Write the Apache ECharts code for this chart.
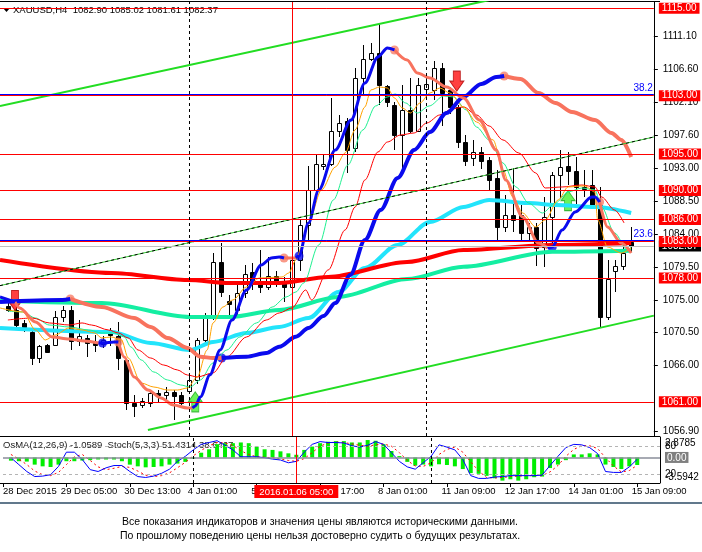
<!DOCTYPE html>
<html>
<head>
<meta charset="utf-8">
<script src="https://cdn.jsdelivr.net/npm/echarts@6/dist/echarts.min.js"></script>
<style>
  html, body { margin: 0; padding: 0; background: #fff; }
  #chart { width: 702px; height: 552px; }
</style>
</head>
<body>
<div id="chart"></div>
<script>
// XAUUSD H4, 28 Dec 2015 - 15 Jan 2016
var symbolName = 'XAUUSD,H4';

var opens  = [1074.2,1073.6,1071.8,1070.6,1067.0,1068.8,1068.8,1072.7,1073.6,1069.3,
              1069.8,1069.1,1068.9,1070.6,1070.0,1066.7,1060.8,1060.6,1060.8,1062.2,
              1062.0,1062.3,1062.0,1062.5,1064.0,1069.5,1072.5,1080.2,1074.9,1073.6,
              1075.9,1078.8,1077.3,1076.8,1078.3,1077.3,1076.8,1080.5,1085.3,1090.1,
              1093.4,1093.7,1098.1,1099.5,1095.8,1105.4,1108.0,1108.8,1104.4,1101.7,
              1097.6,1101.0,1098.1,1103.9,1103.8,1106.8,1103.8,1101.5,1096.7,1094.5,
              1095.3,1094.2,1091.7,1085.0,1086.7,1086.7,1084.2,1085.0,1082.3,1086.4,
              1092.1,1093.3,1092.7,1090.5,1090.7,1088.0,1072.7,1078.9,1079.6,1082.90];
var highs  = [1075.0,1075.0,1072.2,1070.9,1068.8,1069.0,1073.4,1074.1,1074.1,1072.2,
              1070.2,1070.2,1070.0,1071.1,1072.0,1067.0,1061.9,1061.5,1062.4,1062.6,
              1063.0,1062.6,1062.3,1064.5,1069.7,1073.2,1081.4,1082.8,1075.6,1077.3,
              1079.8,1080.0,1081.8,1080.9,1078.9,1078.1,1080.9,1085.9,1093.3,1094.9,
              1095.0,1102.7,1100.4,1099.9,1106.8,1110.0,1110.2,1112.9,1104.5,1102.2,
              1104.5,1105.4,1105.4,1105.4,1107.7,1107.5,1104.2,1101.7,1097.6,1096.9,
              1095.9,1094.6,1092.8,1089.4,1093.1,1088.0,1085.6,1085.5,1089.1,1092.6,
              1095.6,1095.3,1094.6,1092.8,1092.8,1090.5,1080.5,1080.5,1082.7,1085.02];
var lows   = [1073.3,1071.3,1070.6,1066.1,1066.3,1067.7,1068.6,1072.0,1068.1,1068.6,
              1067.2,1067.9,1068.4,1068.6,1065.4,1059.9,1058.9,1060.2,1060.3,1061.0,
              1061.3,1058.5,1060.6,1062.2,1063.5,1068.6,1072.2,1075.4,1072.7,1072.7,
              1075.2,1076.3,1075.9,1076.3,1076.8,1074.7,1076.3,1078.9,1083.2,1089.2,
              1092.8,1093.3,1097.4,1092.4,1095.3,1102.9,1107.7,1101.7,1101.5,1095.6,
              1092.8,1097.9,1098.1,1102.7,1102.4,1098.8,1100.5,1095.8,1093.3,1093.3,
              1093.0,1090.1,1083.2,1084.3,1084.3,1082.9,1082.9,1079.7,1079.5,1082.3,
              1088.9,1090.7,1088.2,1089.1,1087.8,1071.3,1072.2,1076.1,1079.1,1081.61];
var closes = [1073.6,1071.5,1071.3,1067.0,1068.6,1067.9,1072.7,1073.6,1069.3,1070.0,
              1069.1,1068.8,1069.5,1070.2,1067.0,1060.8,1060.4,1061.1,1062.2,1062.0,
              1062.3,1061.8,1060.9,1064.0,1069.5,1072.5,1080.2,1076.1,1074.4,1075.9,
              1078.6,1077.5,1076.7,1078.3,1077.5,1076.7,1080.5,1085.3,1090.1,1093.6,
              1093.6,1098.1,1099.3,1095.6,1105.5,1108.0,1108.8,1104.5,1102.2,1097.6,
              1101.0,1098.1,1104.5,1104.6,1106.8,1103.4,1101.5,1096.7,1094.0,1095.3,
              1094.1,1091.4,1085.0,1086.7,1086.0,1084.2,1085.0,1082.1,1086.4,1092.1,
              1093.2,1092.7,1090.5,1090.2,1088.0,1072.7,1077.9,1079.6,1081.4,1082.37];

// time axis labels (bar index -> label)
var timeLabelBars = [-1, 7, 15, 23, 31, 39, 47, 55, 63, 71, 79];
var timeLabels = ['28 Dec 2015', '29 Dec 05:00', '30 Dec 13:00', '4 Jan 01:00', '5 Jan 09:00',
                  '6 Jan 17:00', '8 Jan 01:00', '11 Jan 09:00', '12 Jan 17:00', '14 Jan 01:00', '15 Jan 09:00'];
var priceTicks = [1111.10, 1106.60, 1102.10, 1097.60, 1093.00, 1088.50, 1084.00, 1079.50, 1075.00, 1070.50, 1066.00, 1056.90];

// objects drawn on the chart
var levelLines = [1115.00, 1103.00, 1095.00, 1090.00, 1086.00, 1083.00, 1078.00, 1061.00];
var fiboLevels = [1103.14, 1083.14];
var fiboNames = ['38.2', '23.6'];
var weekStartBars = [23, 53];
var cursorBar = 36;
var cursorLabel = '2016.01.06 05:00';
var upperChannel = [[-1, 1101.57], [62, 1116.35]];
var lowerChannel = [[17.75, 1057.13], [81.875, 1072.83]];
var midTrend = [[-1, 1076.94], [81.875, 1097.34]];

// moving averages: [bar, price]
var maRedSlow = [[-1,1080.46],[13.1,1078.68],[22.75,1077.72],[28.1,1077.31],[34.4,1077.31],[40.6,1078.13],
                 [50.6,1080.19],[57.75,1081.83],[69,1082.52],[79,1082.79]];
var maTeal = [[-1,1074.88],[11.9,1074.56],[23.1,1072.64],[28.1,1072.64],[34.4,1073.60],[41.9,1075.39],
              [50.6,1077.85],[57.75,1079.54],[69,1081.60],[79,1081.74]];
var maCyan = [[-1,1071.13],[13.1,1070.58],[18.1,1069.07],[23.1,1068.11],[26,1069.21],[30.25,1070.44],
              [34.4,1071.27],[38.1,1072.50],[41.9,1076.07],[45.25,1079.36],[49.4,1082.52],[53.5,1085.68],
              [57.75,1087.73],[61,1088.70],[66,1088.28],[69.4,1088.01],[74.4,1087.73],[79,1086.91]];
var maOrange = [[-1,1073.88],[1.9,1073.33],[3.5,1070.86],[4.75,1069.49],[6,1070.17],[7.75,1071.13],[9.4,1070.86],
                [11,1070.45],[11.9,1069.76],[13.1,1069.90],[14.4,1069.49],[15.25,1067.01],[16.9,1063.58],[18.5,1063.03],
                [20.25,1062.62],[21.5,1062.62],[22.75,1062.90],[24,1064.41],[25.25,1068.11],[26,1071.82],[27.25,1074.01],
                [28.5,1074.97],[30.25,1076.76],[31.9,1077.99],[34.75,1078.13],[35.6,1078.68],[36.5,1080.46],[37.25,1082.25],
                [38.1,1085.54],[39.75,1090.07],[41.5,1093.22],[42.75,1095.15],[44,1098.30],[45.25,1101.46],[46,1103.79],
                [47.1,1104.20],[48.1,1104.06],[49,1102.69],[50,1101.32],[51,1100.63],[52.25,1102.01],[53.5,1103.38],
                [54.75,1104.06],[56,1103.38],[57.75,1101.46],[59.4,1099.40],[61.5,1096.93],[62.75,1092.81],[64,1089.11],
                [65.25,1086.91],[66.9,1084.99],[68.1,1085.95],[69.75,1088.70],[71,1090.48],[73.1,1090.62],[74.4,1089.79],
                [74.75,1085.95],[76,1082.25],[77.75,1081.42],[79,1082.11]];
var maRedFast = [[0,1072.23],[3.1,1072.50],[5.25,1071.82],[7.75,1071.54],[9.4,1071.82],[10.6,1071.54],[12.75,1070.86],
                 [14,1070.45],[15.25,1069.76],[16.5,1068.11],[18.1,1067.01],[19.75,1066.05],[21.5,1065.37],[22.75,1064.68],
                 [24,1064.41],[26,1064.96],[27.75,1067.15],[30.25,1069.90],[32.75,1072.23],[34.4,1073.19],[36,1073.88],
                 [37.75,1076.35],[38.5,1074.97],[40.6,1079.09],[42.75,1084.58],[44,1087.73],[45.25,1091.44],[46.9,1095.28],
                 [48.1,1096.65],[49.75,1097.61],[51.5,1097.89],[53.1,1099.26],[54.75,1100.36],[56.25,1101.18],[57.75,1101.46],
                 [59.4,1100.36],[61,1098.85],[62.75,1096.93],[64.75,1095.15],[66.9,1092.40],[68.1,1090.34],[70.25,1090.48],
                 [72.75,1090.75],[74.4,1090.48],[75.25,1089.11],[76.9,1087.32],[78.1,1085.54]];
var maGreenFast = [[0,1073.46],[1.9,1073.33],[3.5,1072.50],[5.25,1071.54],[7.75,1071.27],[10.25,1070.86],[11.9,1070.45],
                   [13.5,1070.45],[14.75,1069.90],[15.6,1068.52],[16.9,1066.74],[18.5,1065.09],[20.25,1064.00],[21.9,1063.31],
                   [23.1,1063.03],[24.4,1064.00],[26,1066.33],[27.75,1068.11],[29.4,1069.90],[31.5,1071.82],[33.5,1074.01],
                   [35.25,1075.38],[36.5,1076.07],[37.5,1077.31],[39.4,1082.52],[41.25,1088.70],[43.1,1093.50],[45,1098.30],
                   [46.6,1101.59],[48.1,1102.83],[49.1,1103.24],[50.4,1102.01],[51.9,1100.63],[53.4,1101.59],[55.25,1102.97],
                   [56.5,1102.83],[58.1,1101.05],[59.4,1098.71],[61,1096.93],[62.75,1093.77],[64.4,1090.48],[66,1088.28],
                   [67.75,1086.91],[69.4,1088.28],[71,1089.79],[72.75,1090.34],[74.4,1090.07],[75.25,1087.73],[76.9,1084.17],
                   [78.5,1081.83],[79,1082.25]];

// slope-coloured averages, '-' breaks a segment
var slowRising = [[-1,1074.70],[6.9,1074.97],[7.9,1075.11],'-',
                  [27.1,1067.01],[30.25,1067.19],[32.75,1067.70],[34.4,1068.57],[36.5,1069.94],[38.1,1071.13],[40,1072.78],
                  [41.5,1074.56],[43.4,1078.40],[45.25,1083.21],[47.25,1087.32],[49.4,1091.71],[51.5,1095.56],[53.5,1098.03],
                  [55.6,1100.63],[57.75,1102.83],[60,1104.61],[61.9,1105.57],[62.9,1105.71]];
var slowFalling = [[7.9,1075.11],[11.9,1074.01],[16,1072.50],[18.1,1071.27],[20.25,1069.76],[22.75,1068.39],[24.4,1067.19],
                   [26,1067.01],[27.1,1067.01],'-',
                   [62.9,1105.71],[65,1105.30],[67.25,1103.38],[69.4,1102.01],[71.5,1100.77],[74.4,1099.67],[76.5,1097.89],
                   [77.75,1096.93],[79,1094.60]];
var fastRising = [[-1,1075.38],[0.9,1074.70],'-',
                  [11.5,1069.07],[12,1069.07],[13.5,1069.21],[14,1069.21],'-',
                  [23.4,1060.15],[23.75,1060.43],[24.4,1061.66],[25.6,1064.68],[26.9,1068.11],[28.4,1072.23],[30.25,1076.35],
                  [32.1,1079.78],[33.4,1080.74],[34.4,1080.87],[35,1080.74],'-',
                  [36.5,1080.74],[36.9,1081.01],[38.1,1085.54],[39.4,1090.07],[41.5,1095.56],[43.5,1099.67],[45.25,1104.75],
                  [46.9,1108.32],[48.1,1109.55],[49,1109.28],'-',
                  [68.4,1082.11],[69,1082.25],[70.25,1084.58],[71.9,1087.05],[74,1089.11],[74.4,1089.11],[75,1088.42]];
var fastFalling = [[0.9,1074.70],[1.5,1073.88],[3.5,1071.96],[5.6,1069.90],[7.75,1069.62],[9.75,1069.35],[11.5,1069.07],'-',
                   [14,1069.21],[14.75,1067.15],[16,1064.41],[17.75,1062.62],[19.4,1061.53],[21,1060.56],[22.75,1060.15],
                   [23.4,1060.15],'-',
                   [35,1080.74],[36.5,1080.74],'-',
                   [49,1109.28],[50.6,1107.91],[51.9,1106.12],[53.5,1105.44],[55.6,1104.20],[57.75,1102.69],[59.75,1099.67],
                   [61.9,1095.56],[63.1,1091.44],[65.25,1086.36],[67.25,1082.79],[68.4,1082.11],'-',
                   [75,1088.42],[76,1084.99],[77.75,1082.79],[79,1081.42]];
var turnTops = [[7.9,1075.11],[62.9,1105.71],[14,1069.21],[35,1080.74],[49,1109.28],[75,1088.42]];
var turnBottoms = [[27.1,1067.01],[12,1069.07],[36.9,1081.01],[69,1082.25]];
var sellArrows = [[0.9,1074.9],[56.9,1105.0]];
var buyArrows = [[23.75,1061.0],[71,1088.6]];

// indicator window
var osma = [-0.45,-0.53,-0.58,-1.01,-1.25,-1.34,-1.01,-0.53,-0.53,-0.43,
            -0.38,-0.29,-0.29,-0.29,-0.53,-1.01,-1.25,-1.39,-1.34,-1.25,
            -1.01,-0.86,-0.62,-0.19,0.67,1.15,1.87,2.01,2.01,2.11,
            2.01,1.53,1.15,1.06,0.86,0.58,0.38,1.06,1.53,2.01,
            2.21,2.30,2.30,2.11,2.11,2.45,2.35,1.87,0.91,0.19,
            -0.62,-1.15,-1.00,-1.25,-0.96,-1.06,-1.25,-1.63,-2.20,-2.30,
            -2.59,-2.93,-3.26,-3.07,-3.26,-3.07,-2.78,-2.69,-1.49,-1.00,
            -0.38,0.43,0.43,0.58,0.43,-1.00,-1.34,-1.63,-1.25,-1.0589];
var stochMain = [55,40,25,14,15,18,36,67,67,51,29,25,33,38,38,25,14,12,15,21,
                 30,47,58,72,84,88,92,82,72,57,57,57,55,52,50,44,47,67,84,90,
                 88,88,87,81,78,82,90,84,66,47,35,30,44,58,83,78,72,51,16,10,
                 10,13,14,16,16,16,16,17,38,58,77,84,83,77,64,25,23,23,35,51.4314];
var stochSignal = [62,52,40,26,18,16,23,40,57,62,49,35,29,32,36,34,26,17,14,16,
                   22,33,45,59,71,81,88,87,82,70,62,57,56,55,52,49,47,53,66,80,
                   87,89,88,85,82,80,83,85,80,66,49,37,36,44,62,73,78,67,46,26,
                   12,11,12,14,15,16,16,16,24,38,58,73,81,81,75,55,37,24,27,38.6467];
var osmaMax = 2.8785, osmaMin = -3.5942;
var stochLevels = [80, 20];

var FONT = 'Liberation Sans';
var last = closes.length - 1;
var X_MIN = -1, X_MAX = 81.875;
var labelShift = 0.7; // time labels start a little left of their tick

function renderCandle(params, api) {
  var i = api.value(0);
  var o = api.coord([i, api.value(1)]);
  var c = api.coord([i, api.value(2)]);
  var l = api.coord([i, api.value(3)]);
  var h = api.coord([i, api.value(4)]);
  var x = Math.round(o[0]) + 0.5;
  var top = Math.round(Math.min(o[1], c[1])) + 0.5;
  var bot = Math.round(Math.max(o[1], c[1])) + 0.5;
  var up = api.value(2) >= api.value(1);
  return {
    type: 'group',
    children: [
      {type: 'line', shape: {x1: x, y1: Math.round(h[1]), x2: x, y2: Math.round(l[1])},
       style: {stroke: '#000', lineWidth: 1}},
      {type: 'rect', shape: {x: x - 2, y: top, width: 4, height: Math.max(bot - top, 1)},
       style: {fill: up ? '#fff' : '#000', stroke: '#000', lineWidth: 1}}
    ]
  };
}

function priceLine(data, color, width, extra) {
  var s = {
    type: 'line', xAxisIndex: 0, yAxisIndex: 0, data: data,
    symbol: 'none', smooth: 0.3, smoothMonotone: 'x', silent: true,
    lineStyle: {color: color, width: width}
  };
  return Object.assign(s, extra || {});
}

var candleData = opens.map(function (o, i) { return [i, o, closes[i], lows[i], highs[i]]; });
var labelBars = timeLabelBars.map(function (b) { return Math.max(b - labelShift, X_MIN); });

var boxLabel = {show: true, position: 'end', distance: 5, color: '#fff',
                padding: [1, 3, 0, 3], fontFamily: FONT, fontSize: 10};
var objectLines = [{yAxis: closes[last], lineStyle: {color: '#c0c0c0', width: 1, type: 'solid'},
  label: Object.assign({}, boxLabel, {formatter: closes[last].toFixed(2), backgroundColor: '#000'})}];
fiboLevels.forEach(function (v, k) {
  objectLines.push({yAxis: v, lineStyle: {color: '#0000ff', width: 1, type: 'solid'},
    label: {show: true, position: 'insideEndTop', distance: 1, formatter: fiboNames[k],
            color: '#0000ff', fontFamily: FONT, fontSize: 10}});
});
levelLines.forEach(function (v) {
  objectLines.push({yAxis: v, lineStyle: {color: '#ff0000', width: 1, type: 'solid'},
    label: Object.assign({}, boxLabel, {formatter: v.toFixed(2), backgroundColor: '#ff0000'})});
});
weekStartBars.forEach(function (b) {
  objectLines.push({xAxis: b, lineStyle: {color: '#000', width: 1, type: [3, 3]}, label: {show: false}});
});
objectLines.push({xAxis: cursorBar, lineStyle: {color: '#ff0000', width: 1, type: 'solid'}, label: {show: false}});

var subLines = [];
stochLevels.forEach(function (v) {
  subLines.push({yAxis: v, lineStyle: {color: '#b4b4b4', width: 1, type: [3, 3]}, label: {show: false}});
});
weekStartBars.forEach(function (b) {
  subLines.push({xAxis: b, lineStyle: {color: '#000', width: 1, type: [3, 3]}, label: {show: false}});
});
subLines.push({xAxis: cursorBar, lineStyle: {color: '#ff0000', width: 1, type: 'solid'},
  label: {show: true, position: 'start', distance: 2, formatter: cursorLabel,
          backgroundColor: '#ff0000', color: '#fff', padding: [2, 5, 1, 5], fontFamily: FONT, fontSize: 9.5}});

var chart = echarts.init(document.getElementById('chart'));
chart.setOption({
  animation: false,
  backgroundColor: '#fff',
  textStyle: {fontFamily: FONT},
  grid: [
    {left: -3, top: 2, width: 663, height: 434, show: false},
    {left: -3, top: 437, width: 663, height: 46, show: false}
  ],
  xAxis: [
    {type: 'value', gridIndex: 0, min: X_MIN, max: X_MAX, show: false, splitLine: {show: false},
     axisLine: {onZero: false}},
    {type: 'value', gridIndex: 1, min: X_MIN, max: X_MAX,
     axisLine: {show: false, onZero: false}, splitLine: {show: false},
     axisTick: {show: true, customValues: timeLabelBars, length: 4, lineStyle: {color: '#000'}},
     axisLabel: {customValues: labelBars, align: 'left', margin: 3, color: '#000', fontSize: 9.5, fontFamily: FONT,
                 formatter: function (v) {
                   var k = labelBars.indexOf(v);
                   return k >= 0 ? timeLabels[k] : '';
                 }}}
  ],
  yAxis: [
    {type: 'value', gridIndex: 0, position: 'right', min: 1056.31, max: 1115.86,
     splitLine: {show: false},
     axisLine: {show: true, onZero: false, lineStyle: {color: '#000'}},
     axisTick: {show: true, customValues: priceTicks, length: 4, lineStyle: {color: '#000'}},
     axisLabel: {customValues: priceTicks, margin: 9, color: '#000', fontSize: 10, fontFamily: FONT,
                 formatter: function (v) { return v.toFixed(2); }}},
    {type: 'value', gridIndex: 1, position: 'right', min: 0, max: 100,
     splitLine: {show: false},
     axisLine: {show: true, onZero: false, lineStyle: {color: '#000'}},
     axisTick: {show: false},
     axisLabel: {customValues: stochLevels, margin: 5, color: '#000', fontSize: 10, fontFamily: FONT}},
    {type: 'value', gridIndex: 1, position: 'right', min: osmaMin, max: osmaMax,
     splitLine: {show: false}, axisLine: {show: false, onZero: false}, axisTick: {show: false},
     axisLabel: {customValues: [osmaMax, 0, osmaMin], margin: 5,
                 formatter: function (v) {
                   if (v > 0) return '{t|' + osmaMax.toFixed(4) + '}';
                   if (v < 0) return '{b|' + osmaMin.toFixed(4) + '}';
                   return '{z|0.00}';
                 },
                 rich: {
                   t: {padding: [12, 0, 0, 0], color: '#000', fontSize: 10, fontFamily: FONT},
                   b: {padding: [0, 0, 12, 0], color: '#000', fontSize: 10, fontFamily: FONT},
                   z: {backgroundColor: '#7f7f7f', color: '#fff', padding: [1, 2, 0, 2], fontSize: 10, fontFamily: FONT}
                 }}}
  ],
  graphic: [
    // window frame
    {type: 'line', shape: {x1: 0, y1: 1.5, x2: 660, y2: 1.5}, style: {stroke: '#000', lineWidth: 1}},
    {type: 'line', shape: {x1: 0, y1: 436.5, x2: 660, y2: 436.5}, style: {stroke: '#000', lineWidth: 1}},
    {type: 'line', shape: {x1: 0, y1: 483.5, x2: 660, y2: 483.5}, style: {stroke: '#000', lineWidth: 1}},
    {type: 'line', shape: {x1: 0, y1: 503, x2: 702, y2: 503}, style: {stroke: '#2d4b66', lineWidth: 1.5}},
    {type: 'polygon', shape: {points: [[3, 8], [10, 8], [6.5, 12]]}, style: {fill: '#000'}},
    {type: 'text', left: 13, top: 5,
     style: {text: symbolName + '  ' + [opens[last], highs[last], lows[last], closes[last]].map(function (v) { return v.toFixed(2); }).join(' '),
             font: '9.5px ' + FONT, fill: '#000'}},
    {type: 'text', left: 3, top: 440,
     style: {text: 'OsMA(12,26,9) ' + osma[last].toFixed(4) + '  Stoch(5,3,3) ' + stochMain[last].toFixed(4) + ' ' + stochSignal[last].toFixed(4),
             font: '9.5px ' + FONT, fill: '#202020'}},
    {type: 'text', x: 320, y: 522,
     style: {text: 'Все показания индикаторов и значения цены являются историческими данными.',
             font: '10.5px ' + FONT, fill: '#000', align: 'center', verticalAlign: 'middle'}},
    {type: 'text', x: 320, y: 536,
     style: {text: 'По прошлому поведению цены нельзя достоверно судить о будущих результатах.',
             font: '10.5px ' + FONT, fill: '#000', align: 'center', verticalAlign: 'middle'}}
  ],
  series: [
    {type: 'custom', name: 'XAUUSD', xAxisIndex: 0, yAxisIndex: 0, data: candleData,
     renderItem: renderCandle, encode: {x: 0, y: [1, 2, 3, 4]}, silent: true, clip: true},
    priceLine(maCyan, '#22e4fb', 4),
    priceLine(maTeal, '#14eea2', 4),
    priceLine(maRedSlow, '#ff0000', 4),
    priceLine(maGreenFast, '#1ef090', 1),
    priceLine(maRedFast, '#ff0000', 1),
    priceLine(maOrange, '#ffa200', 1),
    priceLine(slowFalling, '#f8735e', 4),
    priceLine(slowRising, '#0a0aee', 4),
    priceLine(fastFalling, '#f8735e', 3),
    priceLine(fastRising, '#0a0aee', 3),
    {type: 'scatter', xAxisIndex: 0, yAxisIndex: 0, data: turnTops, symbolSize: 9, silent: true,
     itemStyle: {color: '#f8806a'}},
    {type: 'scatter', xAxisIndex: 0, yAxisIndex: 0, data: turnBottoms, symbolSize: 9, silent: true,
     itemStyle: {color: '#0a0aee'}},
    {type: 'scatter', xAxisIndex: 0, yAxisIndex: 0, data: sellArrows, silent: true,
     symbol: 'path://M3,0L9,0L9,7L12,7L6,14L0,7L3,7Z', symbolSize: [14, 20],
     itemStyle: {color: '#ff1010', borderColor: '#b00000', borderWidth: 1}},
    {type: 'scatter', xAxisIndex: 0, yAxisIndex: 0, data: buyArrows, silent: true,
     symbol: 'path://M6,0L12,7L9,7L9,14L3,14L3,7L0,7Z', symbolSize: [14, 20],
     itemStyle: {color: '#44f030', borderColor: '#22aa22', borderWidth: 1}},
    priceLine(upperChannel, '#22dd22', 2, {smooth: false}),
    priceLine(lowerChannel, '#22dd22', 2, {smooth: false}),
    priceLine(midTrend, '#33cc33', 1, {smooth: false}),
    priceLine(midTrend, '#000', 1, {smooth: false,
      lineStyle: {color: '#000', width: 1, type: [3, 3]},
      markLine: {silent: true, symbol: ['none', 'none'], animation: false, data: objectLines}}),

    {type: 'bar', xAxisIndex: 1, yAxisIndex: 2, barWidth: 4, silent: true,
     data: osma.map(function (v, i) { return [i, v]; }),
     itemStyle: {color: '#00ee00'},
     markLine: {silent: true, symbol: ['none', 'none'], animation: false,
                data: [{yAxis: 0, lineStyle: {color: '#8a8e9a', width: 1.5, type: 'solid'}, label: {show: false}}]}},
    {type: 'line', xAxisIndex: 1, yAxisIndex: 1, symbol: 'none', silent: true,
     data: stochSignal.map(function (v, i) { return [i, v]; }),
     lineStyle: {color: '#ff0000', width: 1, type: [2, 3]}},
    {type: 'line', xAxisIndex: 1, yAxisIndex: 1, symbol: 'none', silent: true,
     data: stochMain.map(function (v, i) { return [i, v]; }),
     lineStyle: {color: '#0000ff', width: 1},
     markLine: {silent: true, symbol: ['none', 'none'], animation: false, data: subLines}}
  ]
});
</script>
</body>
</html>
